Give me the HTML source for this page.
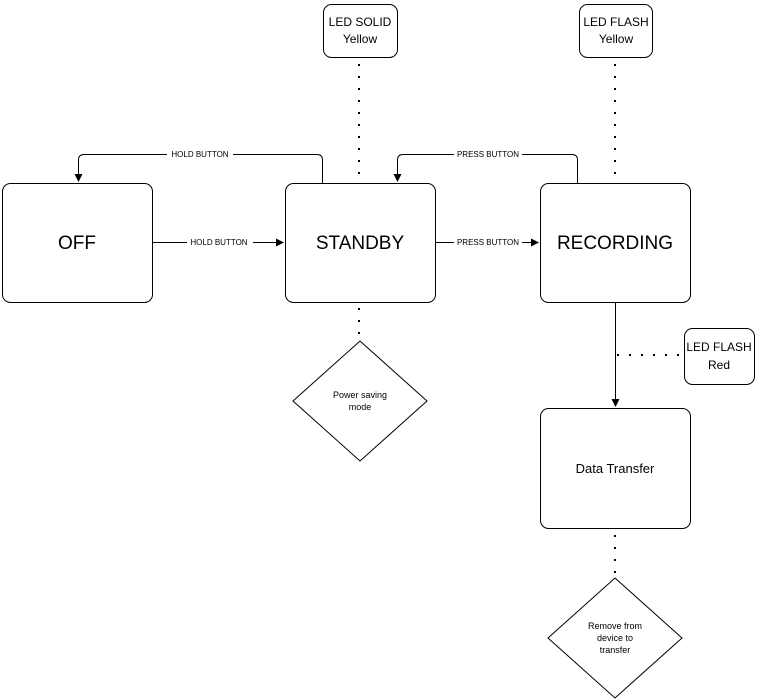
<!DOCTYPE html>
<html><head><style>body{margin:0;background:#fff}svg{display:block}</style></head><body>
<svg width="759" height="700" xmlns="http://www.w3.org/2000/svg" font-family="'Liberation Sans', sans-serif">
<defs><marker id="a" markerWidth="8" markerHeight="8" refX="7" refY="4" orient="auto" markerUnits="userSpaceOnUse"><path d="M0,0L8,4L0,8z" fill="#000"/></marker></defs>
<g fill="#fff" stroke="#000" stroke-width="1">
<rect x="2.5" y="183.5" width="150" height="119" rx="8"/>
<rect x="285.5" y="183.5" width="150" height="119" rx="8"/>
<rect x="540.5" y="183.5" width="150" height="119" rx="8"/>
<rect x="540.5" y="408.5" width="150" height="120" rx="8"/>
<rect x="323.5" y="4.5" width="74" height="53" rx="8"/>
<rect x="579.5" y="4.5" width="73" height="53" rx="8"/>
<rect x="684.5" y="328.5" width="70" height="56" rx="8"/>
<path d="M360,341 L427,401 L360,461 L293,401 Z"/>
<path d="M615,578 L682,638 L615,698 L548,638 Z"/>
</g>
<g stroke="#000" stroke-width="2" stroke-dasharray="2 10" fill="none">
<path d="M359,64 V182"/><path d="M615,64 V182"/><path d="M359,308 V340"/><path d="M615,535 V577"/><path d="M617,355 H680"/>
</g>
<g stroke="#000" fill="none" stroke-width="1">
<path d="M152.5,242.5 H283" marker-end="url(#a)"/>
<path d="M435.5,242.5 H538" marker-end="url(#a)"/>
<path d="M615.5,302.5 V406" marker-end="url(#a)"/>
<path d="M322.5,183 V160 Q322.5,154.5 317,154.5 H84 Q78.5,154.5 78.5,160 V181" marker-end="url(#a)"/>
<path d="M577.5,183 V160 Q577.5,154.5 572,154.5 H403 Q397.5,154.5 397.5,160 V181" marker-end="url(#a)"/>
</g>
<g font-size="8" text-anchor="middle">
<rect x="167" y="149" width="66" height="10" fill="#fff"/><text x="200" y="157">HOLD BUTTON</text>
<rect x="187" y="237" width="66" height="10" fill="#fff"/><text x="219" y="245">HOLD BUTTON</text>
<rect x="454" y="149" width="68" height="10" fill="#fff"/><text x="488" y="157">PRESS BUTTON</text>
<rect x="454" y="237" width="68" height="10" fill="#fff"/><text x="488" y="245">PRESS BUTTON</text>
</g>
<g font-size="19" text-anchor="middle">
<text x="77" y="249">OFF</text><text x="360" y="249">STANDBY</text><text x="615" y="249">RECORDING</text>
</g>
<g font-size="12" text-anchor="middle">
<text x="360" y="26">LED SOLID</text><text x="360" y="43">Yellow</text>
<text x="616" y="26">LED FLASH</text><text x="616" y="43">Yellow</text>
<text x="719" y="351">LED FLASH</text><text x="719" y="369">Red</text>
<text x="615" y="473" font-size="13">Data Transfer</text>
</g>
<g font-size="9" text-anchor="middle">
<text x="360" y="398">Power saving</text><text x="360" y="410">mode</text>
<text x="615" y="629">Remove from</text><text x="615" y="641">device to</text><text x="615" y="653">transfer</text>
</g>
</svg>
</body></html>
